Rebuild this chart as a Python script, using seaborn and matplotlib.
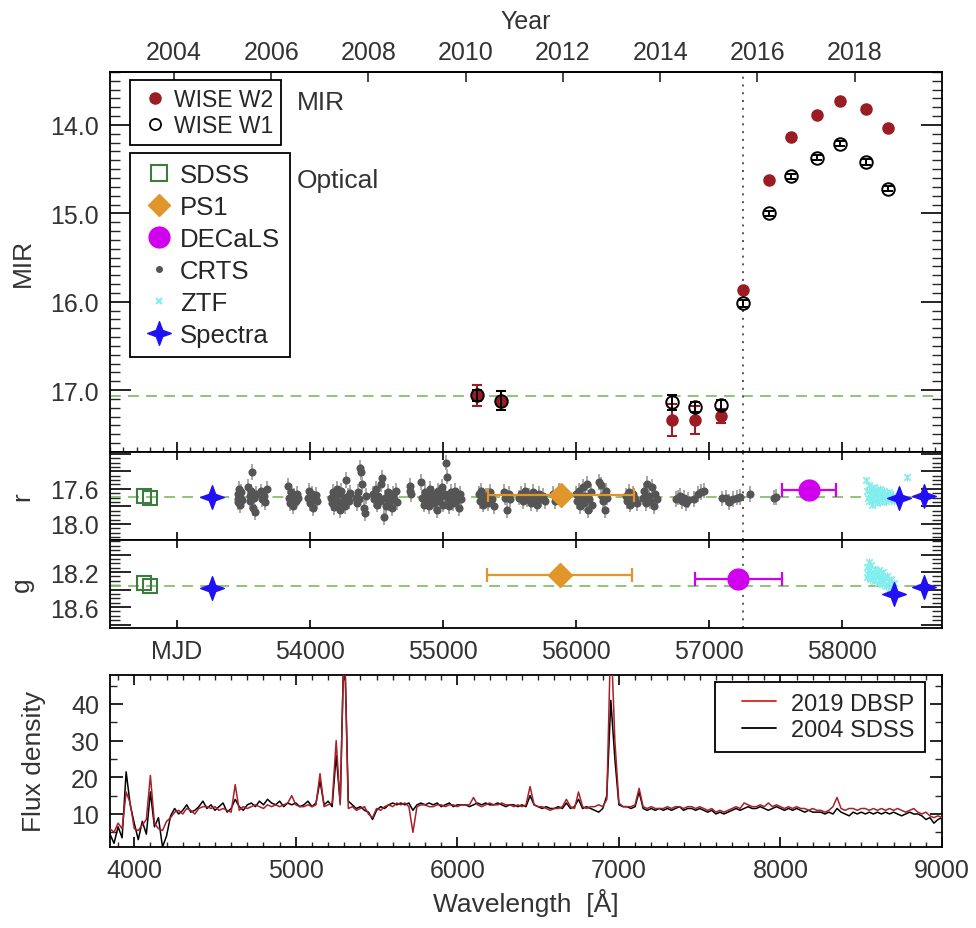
import numpy as np
import matplotlib
matplotlib.use("Agg")
import matplotlib.pyplot as plt
from matplotlib.lines import Line2D
from matplotlib.path import Path
from matplotlib.legend_handler import HandlerLine2D
from matplotlib.ticker import MultipleLocator, FixedLocator, FuncFormatter
import seaborn as sns

# ---------------- data ----------------
# WISE light curve (MIR)
wise_mjd = [55259, 55434, 56723, 56898, 57086, 57256, 57448, 57619, 57811, 57981, 58176, 58342]
w2_mag = [17.06, 17.12, 17.34, 17.34, 17.29, 15.87, 14.62, 14.14, 13.89, 13.73, 13.82, 14.04]
w2_err = [0.12, 0.11, 0.18, 0.16, 0.08, 0.02, 0.02, 0.02, 0.02, 0.02, 0.02, 0.02]
w1_mag = [17.06, 17.12, 17.14, 17.19, 17.17, 16.02, 15.00, 14.58, 14.37, 14.21, 14.42, 14.72]
w1_err = [0.06, 0.11, 0.09, 0.06, 0.06, 0.04, 0.03, 0.03, 0.03, 0.03, 0.03, 0.03]
mir_quiescent = 17.07
flare_mjd = 57256

# SDSS photometry
sdss_mjd = [52756, 52801]
sdss_r = [17.68, 17.71]
sdss_g = [18.33, 18.36]

# PS1 (mean over survey span)
ps1_mjd = [55888, 55878]
ps1_span = [547, 545]
ps1_r = 17.67
ps1_g = 18.23

# DECaLS
decals_r_mjd, decals_r, decals_r_span = 57753, 17.61, 204
decals_g_mjd, decals_g, decals_g_span = 57220, 18.28, 329

# spectra epochs (synthetic mags)
spec_r_mjd = [53264, 58424, 58612]
spec_r = [17.69, 17.70, 17.68]
spec_g_mjd = [53264, 58387, 58612]
spec_g = [18.385, 18.45, 18.37]

r_mean = 17.695
g_mean = 18.36

# CRTS
crts_mjd = [53460, 53462, 53465, 53470, 53475, 53478, 53482, 53490,
            53540, 53548, 53555, 53562, 53570, 53575, 53580, 53590, 53598,
            53635, 53645, 53655, 53668, 53678,
            53835, 53842, 53850, 53858, 53866, 53875, 53885, 53895, 53905, 53915,
            53985, 53995, 54005, 54015, 54025, 54035, 54045, 54055,
            54160, 54168, 54175, 54182, 54190, 54198, 54205, 54212, 54220, 54228,
            54236, 54245, 54255, 54265, 54275, 54285, 54295, 54305,
            54348, 54356, 54365, 54372, 54380, 54388, 54395, 54405, 54415, 54425,
            54475, 54485, 54495, 54505, 54515, 54525, 54535, 54545, 54555, 54565,
            54575, 54585, 54595, 54605, 54615, 54625, 54635, 54645, 54655,
            54750, 54755, 54762,
            54835, 54845, 54855, 54865, 54875, 54885, 54895, 54905, 54915, 54925,
            54935, 54945, 54955, 54965, 54975, 54985, 54995, 55005, 55015, 55025,
            55030, 55040, 55050, 55060, 55070, 55080, 55090, 55100, 55110, 55120,
            55130, 55140,
            55270, 55280, 55290, 55300, 55312, 55325, 55340, 55355, 55370, 55385,
            55460, 55470, 55485, 55495, 55505,
            55575, 55590, 55605, 55620, 55635, 55650, 55665, 55680, 55695, 55710,
            55725, 55740, 55755, 55770,
            55825, 55840, 55855, 55870,
            56000, 56010, 56020, 56030, 56040, 56050, 56060, 56070, 56080, 56090,
            56100, 56110, 56120,
            56175, 56185, 56195, 56205, 56215, 56225, 56235,
            56375, 56385, 56395, 56405, 56415, 56430, 56445, 56458,
            56500, 56512, 56524, 56536, 56548, 56560, 56572, 56584, 56596, 56608,
            56750, 56765, 56780, 56795, 56810, 56825, 56840,
            56890, 56915, 56940, 56965,
            57100, 57125, 57150, 57180, 57210, 57235,
            57310, 57490, 57505]
crts_r = [17.66, 17.72, 17.75, 17.60, 17.79, 17.70, 17.64, 17.73,
          17.58, 17.68, 17.74, 17.63, 17.41, 17.82, 17.70, 17.86, 17.66,
          17.63, 17.72, 17.68, 17.75, 17.60,
          17.57, 17.70, 17.76, 17.64, 17.72, 17.80, 17.68, 17.74, 17.66, 17.71,
          17.70, 17.62, 17.76, 17.66, 17.82, 17.72, 17.67, 17.74,
          17.70, 17.76, 17.64, 17.81, 17.69, 17.73, 17.60, 17.78, 17.66, 17.84,
          17.62, 17.75, 17.70, 17.80, 17.50, 17.68, 17.74, 17.65,
          17.70, 17.76, 17.64, 17.72, 17.36, 17.41, 17.55, 17.82, 17.88, 17.68,
          17.66, 17.72, 17.60, 17.78, 17.68, 17.74, 17.55, 17.48, 17.92, 17.70,
          17.80, 17.64, 17.76, 17.70, 17.82, 17.66, 17.72, 17.62, 17.75,
          17.57, 17.62, 17.66,
          17.52, 17.70, 17.78, 17.64, 17.74, 17.68, 17.80, 17.60, 17.72, 17.66,
          17.76, 17.70, 17.84, 17.62, 17.74, 17.68, 17.58, 17.78, 17.66, 17.30,
          17.46, 17.72, 17.80, 17.64, 17.70, 17.76, 17.62, 17.74, 17.68, 17.82,
          17.66, 17.72,
          17.66, 17.74, 17.62, 17.78, 17.70, 17.68, 17.76, 17.64, 17.72, 17.80,
          17.64, 17.70, 17.84, 17.66, 17.72,
          17.70, 17.66, 17.74, 17.62, 17.72, 17.68, 17.76, 17.64, 17.70, 17.78,
          17.66, 17.72, 17.68, 17.74,
          17.66, 17.74, 17.70, 17.62,
          17.66, 17.74, 17.62, 17.80, 17.70, 17.58, 17.76, 17.68, 17.54, 17.84,
          17.72, 17.64, 17.78,
          17.52, 17.56, 17.68, 17.74, 17.84, 17.62, 17.70,
          17.68, 17.74, 17.64, 17.78, 17.70, 17.66, 17.72, 17.76,
          17.70, 17.62, 17.76, 17.54, 17.68, 17.74, 17.58, 17.80, 17.66, 17.72,
          17.72, 17.70, 17.68, 17.74, 17.70, 17.76, 17.73,
          17.72, 17.66, 17.64, 17.62,
          17.71, 17.70, 17.75, 17.72, 17.70, 17.69,
          17.66, 17.70, 17.69]
crts_err = 0.09

# ZTF
ztf_r_mjd = [58180, 58186, 58192, 58198, 58204, 58210, 58216, 58222, 58228, 58234,
             58240, 58246, 58252, 58258, 58264, 58270, 58276, 58282, 58288, 58294,
             58300, 58306, 58312, 58318, 58324, 58330, 58336, 58342, 58348, 58354,
             58362, 58370, 58380, 58392, 58487]
ztf_r = [17.50, 17.62, 17.70, 17.56, 17.74, 17.66, 17.60, 17.78, 17.68, 17.72,
         17.58, 17.64, 17.70, 17.76, 17.62, 17.66, 17.73, 17.60, 17.69, 17.64,
         17.75, 17.67, 17.62, 17.70, 17.66, 17.74, 17.68, 17.72, 17.64, 17.70,
         17.66, 17.72, 17.68, 17.74, 17.47]
ztf_g_mjd = [58185, 58190, 58195, 58200, 58205, 58210, 58215, 58220, 58228, 58236,
             58244, 58252, 58260, 58268, 58276, 58284, 58292, 58300, 58308, 58316,
             58324, 58332, 58340, 58348, 58356, 58364, 58372, 58380, 58390]
ztf_g = [18.26, 18.14, 18.22, 18.08, 18.18, 18.28, 18.12, 18.24, 18.20, 18.30,
         18.16, 18.26, 18.22, 18.32, 18.18, 18.28, 18.24, 18.34, 18.20, 18.30,
         18.26, 18.36, 18.24, 18.30, 18.38, 18.28, 18.34, 18.40, 18.32]
ztf_err = 0.04

# spectra (25 A sampling, 3850-9000 A)
spec_wave = np.arange(3850, 9001, 25)
sdss_flux = [
    4.5, 2.0, 6.5, 3.5, 21.5, 12.5, 7.5, 3.0,
    8.0, 4.5, 16.0, 6.5, 9.0, 1.0, 4.0, 9.5,
    11.5, 10.0, 11.0, 12.5, 10.5, 11.0, 12.0, 13.5,
    11.5, 12.5, 11.0, 12.0, 13.0, 10.5, 11.5, 14.0,
    12.0, 11.0, 12.5, 13.0, 12.0, 13.5, 12.5, 14.0,
    13.0, 12.5, 13.5, 12.0, 13.0, 12.5, 13.0, 12.0,
    12.5, 13.5, 12.0, 13.0, 19.0, 12.5, 13.5, 12.0,
    26.0, 13.0, 60.0, 13.5, 12.5, 11.5, 12.0, 11.0,
    10.5, 8.5, 11.0, 12.0, 11.5, 12.5, 13.0, 12.5,
    13.0, 12.5, 13.0, 11.0, 12.5, 13.0, 12.5, 13.0,
    12.5, 13.0, 12.0, 12.5, 13.0, 12.0, 12.5, 12.5,
    12.5, 12.0, 12.5, 13.0, 12.5, 13.0, 12.5, 12.5,
    13.0, 12.5, 12.0, 12.5, 12.5, 12.0, 12.5, 12.0,
    15.0, 12.5, 12.0, 11.5, 12.0, 11.5, 11.5, 12.0,
    11.5, 13.0, 11.5, 12.0, 14.0, 11.5, 12.0, 11.5,
    11.0, 10.5, 11.5, 15.0, 41.0, 25.0, 12.5, 12.0,
    12.0, 11.5, 12.0, 16.0, 11.5, 11.0, 11.5, 11.0,
    11.5, 11.0, 11.5, 11.0, 11.5, 12.0, 11.0, 11.5,
    11.5, 11.0, 11.5, 11.0, 10.5, 11.0, 10.0, 10.5,
    10.0, 10.5, 11.0, 11.5, 11.0, 11.5, 12.0, 11.5,
    11.5, 12.0, 11.5, 11.0, 11.5, 12.0, 11.5, 11.0,
    11.5, 11.0, 11.5, 11.0, 10.5, 11.0, 10.5, 10.5,
    10.5, 10.0, 10.5, 10.0, 11.5, 10.5, 10.0, 9.5,
    10.5, 10.0, 10.5, 10.0, 10.5, 10.0, 10.5, 10.0,
    10.5, 10.0, 10.5, 10.0, 9.5, 10.0, 10.5, 10.0,
    10.0, 9.5, 8.5, 9.0, 7.5, 8.5, 9.0,
]
dbsp_flux = [
    6.0, 5.0, 7.5, 6.0, 16.0, 13.0, 6.0, 5.5,
    7.0, 8.5, 20.5, 7.5, 6.0, 5.5, 8.0, 9.0,
    10.5, 11.0, 10.0, 11.5, 11.0, 10.0, 11.5, 12.0,
    12.0, 11.5, 12.0, 11.0, 11.5, 11.0, 10.5, 18.0,
    11.0, 12.0, 11.5, 12.0, 12.5, 12.0, 11.5, 12.5,
    12.0, 12.5, 12.0, 12.5, 13.0, 15.0, 12.5, 12.0,
    12.0, 12.5, 12.0, 12.5, 21.0, 12.0, 12.5, 13.0,
    30.0, 12.5, 60.0, 11.5, 12.0, 11.0, 11.5, 12.0,
    10.0, 9.0, 11.5, 11.0, 12.0, 12.5, 12.0, 13.0,
    12.5, 13.0, 12.0, 5.0, 12.0, 12.5, 12.5, 12.0,
    12.0, 12.5, 12.5, 12.0, 12.5, 12.5, 12.0, 12.5,
    12.5, 12.5, 14.5, 12.5, 12.0, 12.5, 13.0, 12.5,
    12.5, 13.0, 12.5, 12.5, 12.0, 12.5, 12.0, 12.5,
    17.5, 12.5, 12.0, 12.0, 11.5, 11.0, 11.5, 11.5,
    12.0, 14.0, 12.0, 11.5, 16.0, 12.0, 11.5, 12.0,
    12.0, 12.5, 12.0, 14.0, 60.0, 30.0, 13.0, 12.0,
    12.0, 12.0, 12.5, 17.0, 12.0, 11.5, 12.0, 11.5,
    11.5, 11.5, 12.0, 11.5, 12.0, 12.0, 11.5, 12.0,
    12.0, 11.5, 12.0, 11.5, 11.0, 11.5, 10.5, 11.0,
    10.5, 11.0, 11.5, 12.0, 11.5, 13.0, 12.5, 12.0,
    12.0, 12.5, 12.0, 13.0, 12.0, 12.5, 12.0, 11.5,
    12.0, 11.5, 12.0, 11.5, 11.5, 11.0, 11.5, 11.0,
    11.0, 10.5, 11.0, 12.0, 14.5, 11.5, 11.0, 11.5,
    11.5, 11.0, 11.5, 11.5, 11.0, 11.5, 11.0, 11.5,
    11.0, 11.5, 11.0, 11.5, 11.0, 10.5, 11.0, 11.5,
    10.5, 10.0, 10.5, 9.5, 9.0, 9.5, 9.0,
]

year_ticks = [2004, 2006, 2008, 2010, 2012, 2014, 2016, 2018]
mjd_ticks = [53000, 54000, 55000, 56000, 57000, 58000]
mjd_ticklabels = ["MJD", "54000", "55000", "56000", "57000", "58000"]
r_labelled = [17.6, 18.0]
g_labelled = [18.2, 18.6]

# ---------------- style ----------------
sns.set_theme(style="ticks")
plt.rcParams["font.family"] = ["Liberation Sans", "DejaVu Sans"]
plt.rcParams["axes.linewidth"] = 1.3

c_w2 = "#9B1C22"
c_green = "#3E7B3E"
c_orange = "#E0962A"
c_magenta = "#D000EE"
c_crts = "#555555"
c_crts_err = "#A8A8A8"
c_ztf = "#7FEFEF"
c_spec = "#2210F5"
c_dash = "#84C06A"
c_text = "#333333"
star = Path.unit_regular_star(4, 0.38)

fig = plt.figure(figsize=(9.76, 9.29), dpi=100)
ax_top = fig.add_axes([0.1127, 0.5124, 0.8525, 0.4091])
ax_r = fig.add_axes([0.1127, 0.4180, 0.8525, 0.0944], sharex=ax_top)
ax_g = fig.add_axes([0.1127, 0.3229, 0.8525, 0.0951], sharex=ax_top)
ax_s = fig.add_axes([0.1127, 0.0872, 0.8525, 0.1855])

TS = 18

def frame(ax):
    for s in ax.spines.values():
        s.set_visible(True)
        s.set_linewidth(1.3)
        s.set_color("black")
    ax.tick_params(labelsize=TS, labelcolor=c_text, color="black")

def boxed(leg):
    leg.get_frame().set_linewidth(1.3)
    return leg

# ---------------- MIR panel ----------------
ax_top.axhline(mir_quiescent, color=c_dash, ls=(0, (6, 4)), lw=1.3, zorder=1)
ax_top.axvline(flare_mjd, color="#555555", ls=(0, (1, 3)), lw=1.4, zorder=1)
ax_top.errorbar(wise_mjd, w2_mag, yerr=w2_err, fmt="o", color=c_w2, ms=8,
                capsize=3.6, elinewidth=1.5, capthick=1.5, zorder=3)
ax_top.errorbar(wise_mjd, w1_mag, yerr=w1_err, fmt="o", mfc="none", mec="black",
                ecolor="black", ms=9, mew=1.4, capsize=3.8, elinewidth=1.4,
                capthick=1.4, zorder=4)
ax_top.set_xlim(52500, 58750)
ax_top.set_ylim(17.7, 13.4)
ax_top.yaxis.set_major_locator(FixedLocator([14.0, 15.0, 16.0, 17.0]))
ax_top.yaxis.set_minor_locator(MultipleLocator(0.1))
ax_top.yaxis.set_major_formatter(FuncFormatter(lambda v, p: f"{v:.1f}"))
ax_top.xaxis.set_major_locator(MultipleLocator(1000))
ax_top.xaxis.set_minor_locator(MultipleLocator(100))
frame(ax_top)
ax_top.tick_params(axis="x", which="both", direction="in", top=False, bottom=True,
                   labelbottom=False)
ax_top.tick_params(axis="x", which="major", length=7, width=1.2)
ax_top.tick_params(axis="x", which="minor", length=3.5, width=1.0)
ax_top.tick_params(axis="y", which="both", direction="in", left=True, right=True, pad=8)
ax_top.tick_params(axis="y", which="major", length=15, width=1.2)
ax_top.tick_params(axis="y", which="minor", length=7, width=1.0)
ax_top.set_ylabel("MIR", fontsize=19, color=c_text)
ax_top.yaxis.set_label_coords(-0.0905, 0.5)

def mjd_to_year(m):
    return 2004 + (np.asarray(m) - 52980.0) / 365.25

def year_to_mjd(y):
    return 52980.0 + (np.asarray(y) - 2004) * 365.25

secax = ax_top.secondary_xaxis("top", functions=(mjd_to_year, year_to_mjd))
secax.set_xticks(year_ticks)
secax.minorticks_off()
secax.tick_params(direction="in", length=7, width=1.2, labelsize=TS,
                  labelcolor=c_text, pad=6)
secax.set_xlabel("Year", fontsize=TS, color=c_text, labelpad=8)

leg1_handles = [
    Line2D([], [], ls="none", marker="o", color=c_w2, ms=8, label="WISE W2"),
    Line2D([], [], ls="none", marker="o", mfc="none", mec="black", mew=1.3, ms=8,
           label="WISE W1"),
]
leg1 = boxed(ax_top.legend(handles=leg1_handles, loc="upper left",
                           bbox_to_anchor=(0.024, 0.979), borderaxespad=0,
                           fontsize=16.5, frameon=True, fancybox=False,
                           edgecolor="black", framealpha=1, handlelength=1.35,
                           handletextpad=0.2, labelspacing=0.12, borderpad=0.35,
                           handler_map={Line2D: HandlerLine2D(xpad=0.15)}))
ax_top.add_artist(leg1)

leg2_handles = [
    Line2D([], [], ls="none", marker="s", mfc="none", mec=c_green, mew=1.5, ms=11,
           label="SDSS"),
    Line2D([], [], ls="none", marker="D", color=c_orange, ms=11, label="PS1"),
    Line2D([], [], ls="none", marker="o", color=c_magenta, ms=15, label="DECaLS"),
    Line2D([], [], ls="none", marker="o", color=c_crts, ms=4, label="CRTS"),
    Line2D([], [], ls="none", marker="x", color=c_ztf, ms=5, mew=1.5, label="ZTF"),
    Line2D([], [], ls="none", marker=star, color=c_spec, ms=17, label="Spectra"),
]
boxed(ax_top.legend(handles=leg2_handles, loc="upper left",
                    bbox_to_anchor=(0.024, 0.787), borderaxespad=0,
                    fontsize=18.5, frameon=True, fancybox=False, edgecolor="black",
                    framealpha=1, handlelength=1.35, handletextpad=0.2,
                    labelspacing=0.31, borderpad=0.4,
                    handler_map={Line2D: HandlerLine2D(xpad=0.13)}))

ax_top.text(0.225, 0.921, "MIR", transform=ax_top.transAxes, fontsize=19,
            color=c_text, ha="left", va="center")
ax_top.text(0.225, 0.716, "Optical", transform=ax_top.transAxes, fontsize=19,
            color=c_text, ha="left", va="center")

# ---------------- optical panels ----------------
def optical_panel(ax, mean, lims, labelled):
    ax.axhline(mean, color=c_dash, ls=(0, (6, 4)), lw=1.3, zorder=1)
    ax.axvline(flare_mjd, color="#555555", ls=(0, (1, 3)), lw=1.4, zorder=1)
    ax.set_ylim(*lims)
    ax.yaxis.set_major_locator(MultipleLocator(0.2))
    ax.yaxis.set_minor_locator(MultipleLocator(0.05))
    ax.yaxis.set_major_formatter(FuncFormatter(
        lambda v, p: f"{v:.1f}" if any(abs(v - l) < 1e-6 for l in labelled) else ""))
    frame(ax)
    ax.tick_params(axis="x", which="major", direction="in", top=True, bottom=True,
                   length=6, width=1.2)
    ax.tick_params(axis="x", which="minor", length=0)
    ax.tick_params(axis="y", which="both", direction="in", left=True, right=True, pad=8)
    ax.tick_params(axis="y", which="major", length=15, width=1.2)
    ax.tick_params(axis="y", which="minor", length=7, width=1.0)

# r band
ax_r.errorbar(crts_mjd, crts_r, yerr=crts_err, fmt="none", ecolor=c_crts_err,
              elinewidth=1.4, zorder=2)
sns.scatterplot(x=crts_mjd, y=crts_r, color=c_crts, s=34, linewidth=0, ax=ax_r,
                zorder=3)
ax_r.errorbar(ztf_r_mjd, ztf_r, yerr=ztf_err, fmt="none", ecolor="#B0C8C8",
              elinewidth=0.8, zorder=3)
sns.scatterplot(x=ztf_r_mjd, y=ztf_r, color=c_ztf, marker="x", s=22, linewidth=1.3,
                ax=ax_r, zorder=4)
ax_r.plot(sdss_mjd, sdss_r, ls="none", marker="s", mfc="none", mec=c_green, mew=1.5,
          ms=10, zorder=4)
ax_r.errorbar(ps1_mjd[0], ps1_r, xerr=ps1_span[0], fmt="D", color=c_orange, ms=12,
              capsize=5, elinewidth=1.6, capthick=1.6, zorder=5)
ax_r.errorbar(decals_r_mjd, decals_r, xerr=decals_r_span, fmt="o", color=c_magenta,
              ms=15, capsize=5, elinewidth=1.6, capthick=1.6, zorder=5)
ax_r.plot(spec_r_mjd, spec_r, ls="none", marker=star, color=c_spec, ms=17, zorder=6)
optical_panel(ax_r, r_mean, (18.18, 17.18), r_labelled)
ax_r.tick_params(axis="x", labelbottom=False)
ax_r.set_ylabel("r", fontsize=19, color=c_text)
ax_r.yaxis.set_label_coords(-0.091, 0.5)

# g band
ax_g.errorbar(ztf_g_mjd, ztf_g, yerr=ztf_err, fmt="none", ecolor="#B0C8C8",
              elinewidth=0.8, zorder=3)
sns.scatterplot(x=ztf_g_mjd, y=ztf_g, color=c_ztf, marker="x", s=22, linewidth=1.3,
                ax=ax_g, zorder=4)
ax_g.plot(sdss_mjd, sdss_g, ls="none", marker="s", mfc="none", mec=c_green, mew=1.5,
          ms=10, zorder=4)
ax_g.errorbar(ps1_mjd[1], ps1_g, xerr=ps1_span[1], fmt="D", color=c_orange, ms=12,
              capsize=5, elinewidth=1.6, capthick=1.6, zorder=5)
ax_g.errorbar(decals_g_mjd, decals_g, xerr=decals_g_span, fmt="o", color=c_magenta,
              ms=15, capsize=5, elinewidth=1.6, capthick=1.6, zorder=5)
ax_g.plot(spec_g_mjd, spec_g, ls="none", marker=star, color=c_spec, ms=17, zorder=6)
optical_panel(ax_g, g_mean, (18.84, 17.83), g_labelled)
ax_g.set_xticks(mjd_ticks)
ax_g.set_xticklabels(mjd_ticklabels)
ax_g.tick_params(axis="x", labelbottom=True, pad=8)
ax_g.set_xlim(52500, 58750)
ax_g.set_ylabel("g", fontsize=19, color=c_text)
ax_g.yaxis.set_label_coords(-0.092, 0.5)
ax_g.set_xlabel("")

# ---------------- spectrum panel ----------------
sns.lineplot(x=spec_wave, y=sdss_flux, color="black", lw=1.1, estimator=None,
             sort=False, ax=ax_s, zorder=2)
sns.lineplot(x=spec_wave, y=dbsp_flux, color="#A8202A", lw=1.1, estimator=None,
             sort=False, ax=ax_s, zorder=3)
ax_s.set_xlim(3850, 9000)
ax_s.set_ylim(1, 48)
ax_s.xaxis.set_major_locator(MultipleLocator(1000))
ax_s.xaxis.set_minor_locator(MultipleLocator(100))
ax_s.yaxis.set_major_locator(FixedLocator([10, 20, 30, 40]))
ax_s.yaxis.set_minor_locator(MultipleLocator(5))
frame(ax_s)
ax_s.tick_params(axis="x", which="both", direction="in", top=True, bottom=True, pad=8)
ax_s.tick_params(axis="x", which="major", length=7, width=1.2)
ax_s.tick_params(axis="x", which="minor", length=3.5, width=1.0)
ax_s.tick_params(axis="y", which="both", direction="in", left=True, right=True, pad=8)
ax_s.tick_params(axis="y", which="major", length=9, width=1.2)
ax_s.tick_params(axis="y", which="minor", length=5, width=1.0)
ax_s.set_xlabel("Wavelength  [Å]", fontsize=19, color=c_text)
ax_s.set_ylabel("Flux density", fontsize=19, color=c_text)
ax_s.yaxis.set_label_coords(-0.077, 0.5)
spec_handles = [Line2D([], [], color="#E02020", lw=1.3, label="2019 DBSP"),
                Line2D([], [], color="black", lw=1.3, label="2004 SDSS")]
boxed(ax_s.legend(handles=spec_handles, loc="upper right",
                  bbox_to_anchor=(0.98, 0.958), borderaxespad=0, fontsize=17,
                  frameon=True, fancybox=False, edgecolor="black", framealpha=1,
                  handlelength=2.15, handletextpad=0.64, labelspacing=0.2,
                  borderpad=0.45, handler_map={Line2D: HandlerLine2D(xpad=0.7)}))

fig.savefig("out.png", dpi=100)
